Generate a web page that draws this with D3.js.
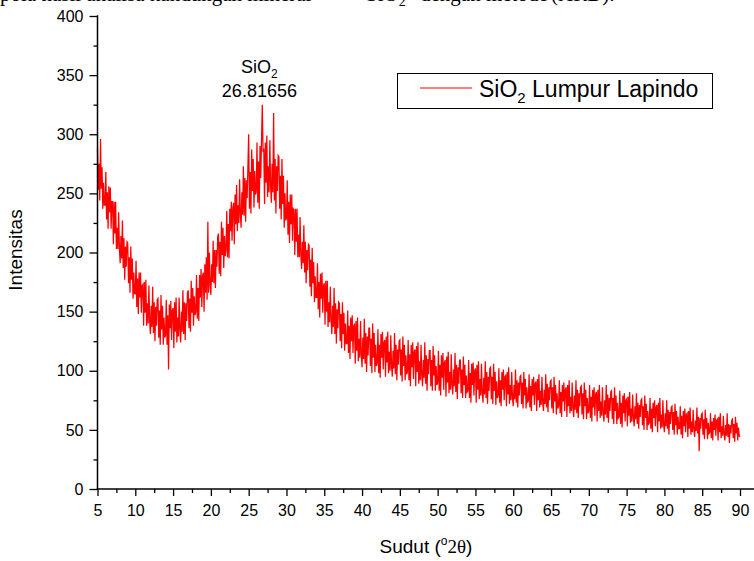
<!DOCTYPE html>
<html><head><meta charset="utf-8">
<script src="https://cdn.jsdelivr.net/npm/d3@7"></script>
<style>body{margin:0;background:#fff}svg{display:block}</style>
</head><body>
<svg id="chart" width="754" height="561"></svg>
<script>
// ---- data ----
const angleStart = 5;      // first 2θ value of the scan
const angleStep = 0.1;     // step between readings
const intensity = [
288,253,275,244,296,254,272,237,259,240,
240,268,228,251,220,256,234,255,220,243,
243,207,243,216,243,203,221,203,234,203,
191,214,195,227,187,212,177,205,188,209,
208,174,196,166,205,177,195,161,183,165,
165,193,154,178,148,183,162,183,149,172,
173,138,175,149,177,138,157,140,172,142,
131,155,137,171,132,158,125,154,138,160,
161,128,151,122,164,135,155,122,145,128,
130,160,122,147,101,156,136,159,126,151,
153,119,158,133,162,124,145,129,162,134,
124,150,133,168,131,158,126,157,142,166,
168,136,161,133,176,149,170,138,163,147,
150,181,144,170,142,181,162,186,154,180,
183,150,190,166,196,160,226,166,200,173,
164,190,175,210,174,202,170,202,188,213,
216,182,209,180,226,198,221,187,214,197,
202,235,196,224,195,237,218,243,210,238,
242,207,249,224,257,218,240,225,262,232,
221,251,232,273,231,263,226,261,246,273,
300,237,268,233,287,252,279,238,269,249,
251,293,242,277,237,290,263,295,325,285,
288,241,293,259,299,247,273,251,295,256,
242,275,251,318,244,279,233,273,252,282,
281,237,265,228,279,241,265,221,250,227,
229,261,215,243,208,249,224,249,210,237,
236,198,237,209,237,196,215,196,230,198,
186,209,191,223,183,209,174,202,185,207,
206,171,194,163,204,174,192,158,180,162,
162,191,152,175,145,182,161,183,149,172,
174,139,176,150,176,137,158,141,171,143,
131,155,137,170,131,157,123,152,136,158,
157,125,148,119,158,131,149,117,140,123,
123,151,115,138,110,145,125,147,115,138,
139,106,142,117,145,108,127,111,142,114,
103,128,110,144,106,132,99,129,113,136,
136,104,127,98,140,111,132,99,122,104,
106,135,98,122,94,131,111,133,101,124,
126,95,129,107,133,98,116,100,130,104,
95,117,102,132,97,122,92,118,105,125,
126,96,118,91,129,104,122,92,113,97,
99,126,92,114,87,122,103,124,93,116,
118,87,121,99,124,89,108,92,122,96,
87,109,94,124,89,113,83,110,97,117,
117,87,109,83,121,96,113,83,104,88,
90,117,83,105,79,113,94,115,84,107,
109,78,112,90,116,81,99,84,114,88,
80,101,87,115,82,105,76,103,89,109,
109,81,101,77,112,88,105,77,96,82,
83,109,77,98,73,106,88,107,79,100,
102,73,105,84,108,76,93,79,106,81,
73,94,80,108,77,99,72,95,83,102,
103,76,95,72,106,83,99,71,91,77,
79,102,73,92,70,99,84,101,75,95,
96,70,99,80,103,72,88,75,99,77,
70,88,76,101,73,92,69,90,79,95,
96,72,90,68,99,79,93,68,86,73,
75,97,69,87,66,93,79,95,71,89,
91,66,93,75,97,69,83,71,95,73,
66,84,72,97,69,89,65,86,75,91,
92,68,86,64,95,74,88,63,81,68,
70,92,64,82,61,88,74,90,66,84,
86,61,88,70,92,64,78,66,90,68,
61,79,67,92,64,84,60,81,70,86,
87,63,81,59,90,70,84,59,77,64,
66,88,60,78,57,84,69,86,62,80,
82,57,84,66,88,60,74,62,86,64,
57,75,63,88,60,80,56,77,66,82,
83,59,77,55,86,66,79,55,73,60,
61,83,55,73,52,79,64,81,57,75,
76,53,78,62,82,56,68,57,80,60,
53,70,59,81,55,73,51,71,61,75,
76,54,70,50,79,60,72,50,66,55,
56,77,51,68,48,73,60,75,53,69,
71,48,73,57,77,51,63,52,75,54,
48,64,53,75,51,67,46,65,55,69,
70,50,65,46,72,54,66,46,61,51,
51,70,46,62,43,66,53,68,48,63,
64,44,66,51,69,46,57,48,67,50,
44,58,49,69,47,61,32,60,51,63,
64,46,59,42,67,51,60,42,56,47,
48,64,43,57,41,60,50,63,45,58,
59,41,61,48,64,43,53,45,62,46,
41,54,45,64,44,55,39,54,47,58,
59,43,55,40,61,47,56,41,52,45,
44
];
const xTickValues = [5,10,15,20,25,30,35,40,45,50,55,60,65,70,75,80,85,90];
const xMinorValues = [7.5,12.5,17.5,22.5,27.5,32.5,37.5,42.5,47.5,52.5,57.5,62.5,67.5,72.5,77.5,82.5,87.5];
const yTickValues = [0,50,100,150,200,250,300,350,400];
const yMinorValues = [25,75,125,175,225,275,325,375];
const seriesName = ["SiO", "2", " Lumpur Lapindo"];
const peakName = ["SiO", "2"];
const peakAngle = 26.81656;
const peakLabel = "26.81656";
const pageTextTop = "pola hasil analisa kandungan mineral";

// ---- drawing ----
const svg = d3.select("#chart");
const x = d3.scaleLinear().domain([5, 90]).range([97.5, 740]);
const y = d3.scaleLinear().domain([0, 400]).range([489, 16]);
const sans = "'Liberation Sans', Arial, sans-serif";
const serif = "'Liberation Serif', 'Times New Roman', serif";

// cropped page text at the very top (only its lowest part is inside the picture)
svg.append("text").attr("x", 0).attr("y", 0.5)
  .attr("font-family", serif).attr("font-size", 21).attr("fill", "#000").text(pageTextTop);
svg.append("text").attr("x", 366).attr("y", 0.5).attr("font-family", serif).attr("font-size", 21)
  .call(t => { t.append("tspan").text("SiO"); t.append("tspan").attr("font-size", 14).attr("dy", 5).text("2"); });
svg.append("text").attr("x", 420).attr("y", 0.5).attr("font-family", serif).attr("font-size", 21).text("dengan metode");
svg.append("text").attr("x", 551).attr("y", 0.5).attr("font-family", serif).attr("font-size", 21).text("(XRD).");

// data line
const pts = intensity.map((v, i) => [angleStart + i * angleStep, v]);
svg.append("path").datum(pts)
  .attr("fill", "none").attr("stroke", "#ff0000").attr("stroke-width", 1.25)
  .attr("stroke-linejoin", "miter")
  .attr("d", d3.line().x(d => x(d[0])).y(d => y(d[1])));

// axes
const gx = svg.append("g").attr("transform", `translate(0,${y(0)})`);
gx.call(d3.axisBottom(x).tickValues(xTickValues).tickSizeInner(7).tickSizeOuter(0).tickPadding(9).tickFormat(d3.format("d")));
gx.select(".domain").remove();
gx.append("g").call(d3.axisBottom(x).tickValues(xMinorValues).tickSize(4).tickFormat(""))
  .select(".domain").remove();
gx.append("line").attr("x1", x(5) - 0.75).attr("x2", x(92)).attr("y1", 0).attr("y2", 0)
  .attr("stroke", "#000").attr("stroke-width", 1.5);

const gy = svg.append("g").attr("transform", `translate(${x(5)},0)`);
gy.call(d3.axisLeft(y).tickValues(yTickValues).tickSizeInner(8).tickSizeOuter(0).tickPadding(6).tickFormat(d3.format("d")));
gy.select(".domain").remove();
gy.append("g").call(d3.axisLeft(y).tickValues(yMinorValues).tickSize(4).tickFormat(""))
  .select(".domain").remove();
gy.append("line").attr("x1", 0).attr("x2", 0).attr("y1", y(0)).attr("y2", y(400) - 0.75)
  .attr("stroke", "#000").attr("stroke-width", 1.5);

svg.selectAll(".tick line").attr("stroke", "#000").attr("stroke-width", 1.3);
svg.selectAll(".tick text").attr("font-family", sans).attr("font-size", 16).attr("fill", "#000");

// axis titles
const xt = svg.append("text").attr("x", 426).attr("y", 553).attr("text-anchor", "middle")
  .attr("font-family", sans).attr("font-size", 19).attr("fill", "#000");
xt.append("tspan").text("Sudut (");
xt.append("tspan").attr("font-size", 12).attr("dy", -8).text("o");
xt.append("tspan").attr("font-family", serif).attr("dy", 8).text("2θ");
xt.append("tspan").text(")");

svg.append("text").attr("transform", "translate(22,250) rotate(-90)").attr("text-anchor", "middle")
  .attr("font-family", sans).attr("font-size", 19).attr("fill", "#000").text("Intensitas");

// peak annotation
const pa = svg.append("text").attr("x", x(peakAngle) - 3).attr("y", 73).attr("text-anchor", "middle")
  .attr("font-family", sans).attr("font-size", 18).attr("fill", "#000");
pa.append("tspan").text(peakName[0]);
pa.append("tspan").attr("font-size", 12).attr("dy", 5).text(peakName[1]);
svg.append("text").attr("x", x(peakAngle) - 3).attr("y", 97).attr("text-anchor", "middle")
  .attr("font-family", sans).attr("font-size", 18).attr("fill", "#000").text(peakLabel);

// legend
const lg = svg.append("g");
lg.append("rect").attr("x", 397.5).attr("y", 73.5).attr("width", 315).attr("height", 35)
  .attr("fill", "#fff").attr("stroke", "#000").attr("stroke-width", 1);
lg.append("line").attr("x1", 420).attr("x2", 472).attr("y1", 88).attr("y2", 88)
  .attr("stroke", "#ff0000").attr("stroke-width", 1);
const lt = lg.append("text").attr("x", 479).attr("y", 97)
  .attr("font-family", sans).attr("font-size", 23).attr("fill", "#000");
lt.append("tspan").text(seriesName[0]);
lt.append("tspan").attr("font-size", 15).attr("dy", 6).text(seriesName[1]);
lt.append("tspan").attr("dy", -6).text(seriesName[2]);
</script>
</body></html>
